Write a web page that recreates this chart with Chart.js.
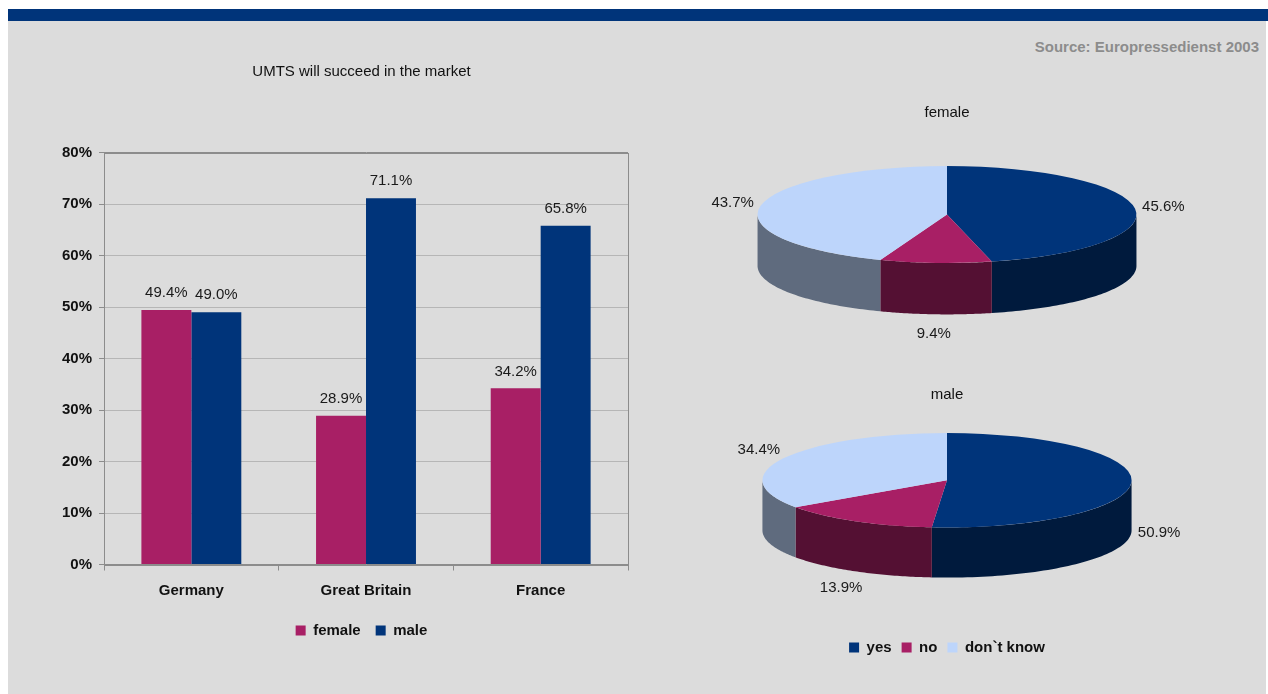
<!DOCTYPE html>
<html>
<head>
<meta charset="utf-8">
<title>UMTS will succeed in the market</title>
<script src="https://cdn.jsdelivr.net/npm/chart.js@4.4.0/dist/chart.umd.min.js"></script>
<style>
    body { margin: 0; background: #ffffff; font-family: "Liberation Sans", Arial, sans-serif; }
    #stripe { position: absolute; left: 8px; top: 9px; width: 1260px; height: 12px; background: #00347a; }
    #panel { position: absolute; left: 8px; top: 21px; width: 1258px; height: 673px; background: #dcdcdc; }
    #source { position: absolute; right: 9px; top: 38px; font-size: 15px; line-height: 17px; font-weight: bold; color: #8c8c8c; }
    canvas { position: absolute; }
    #barChart { left: 20px; top: 30px; }
    #femaleChart { left: 697px; top: 95px; }
    #maleChart { left: 697px; top: 377px; }
</style>
</head>
<body>
<div id="stripe"></div>
<div id="panel"></div>
<div id="source">Source: Europressedienst 2003</div>
<canvas id="barChart" width="682" height="640"></canvas>
<canvas id="femaleChart" width="500" height="248"></canvas>
<canvas id="maleChart" width="500" height="288"></canvas>

<script>
// values (percent)
const countries = ['Germany', 'Great Britain', 'France'];
const femaleYes = [49.4, 28.9, 34.2];
const maleYes = [49.0, 71.1, 65.8];

const answers = ['yes', 'no', 'don`t know'];
const femaleAnswers = [45.6, 9.4, 43.7];
const maleAnswers = [50.9, 13.9, 34.4];

const yTicks = [0, 10, 20, 30, 40, 50, 60, 70, 80];

const magenta = '#a81f65';
const navy = '#00347a';
const lightBlue = '#bdd5fb';

Chart.defaults.font.family = "'Liberation Sans', Arial, sans-serif";
Chart.defaults.font.size = 15;
Chart.defaults.color = '#111111';

const pct = v => v.toFixed(1) + '%';

// value labels above each bar
const barLabels = {
    id: 'barLabels',
    afterDatasetsDraw(chart) {
        const ctx = chart.ctx;
        ctx.save();
        ctx.font = "15px 'Liberation Sans', Arial, sans-serif";
        ctx.fillStyle = '#1a1a1a';
        ctx.textAlign = 'center';
        ctx.textBaseline = 'middle';
        chart.data.datasets.forEach((ds, i) => {
            chart.getDatasetMeta(i).data.forEach((bar, j) => {
                ctx.fillText(pct(ds.data[j]), bar.x, bar.y - 17);
            });
        });
        ctx.restore();
    }
};

// grey frame round the plot area
const plotFrame = {
    id: 'plotFrame',
    beforeDatasetsDraw(chart) {
        const a = chart.chartArea;
        const ctx = chart.ctx;
        ctx.save();
        ctx.strokeStyle = '#8c8c8c';
        ctx.lineWidth = 1;
        ctx.strokeRect(Math.round(a.left) + 0.5, Math.round(a.top) + 0.5, Math.round(a.right - a.left), Math.round(a.bottom - a.top));
        ctx.restore();
    }
};

const barctx = document.getElementById('barChart').getContext('2d');
const barChart = new Chart(barctx, {
    type: 'bar',
    data: {
        labels: countries,
        datasets: [{
            label: 'female',
            data: femaleYes,
            backgroundColor: magenta,
            borderWidth: 0
        }, {
            label: 'male',
            data: maleYes,
            backgroundColor: navy,
            borderWidth: 0
        }]
    },
    options: {
        responsive: false,
        animation: false,
        categoryPercentage: 0.572,
        barPercentage: 1,
        layout: {
            padding: { left: 35, right: 34, top: 0, bottom: 22 }
        },
        plugins: {
            title: {
                display: true,
                text: 'UMTS will succeed in the market',
                font: { size: 15, weight: 'normal' },
                color: '#111111',
                padding: { top: 33, bottom: 71.5 }
            },
            legend: {
                position: 'bottom',
                labels: {
                    boxWidth: 10,
                    boxHeight: 10,
                    padding: 15,
                    font: { size: 15, weight: 'bold' },
                    color: '#111111'
                }
            },
            tooltip: { enabled: false }
        },
        scales: {
            x: {
                grid: {
                    offset: true,
                    drawOnChartArea: false,
                    tickLength: 6,
                    tickColor: '#8c8c8c'
                },
                border: { color: '#8c8c8c' },
                ticks: {
                    padding: 11,
                    font: { size: 15, weight: 'bold' },
                    color: '#111111'
                },
                afterFit: scale => { scale.height = 43.5; }
            },
            y: {
                min: 0,
                max: 80,
                afterBuildTicks: scale => { scale.ticks = yTicks.map(v => ({ value: v })); },
                grid: {
                    color: c => c.tick && c.tick.value === 80 ? '#8c8c8c' : '#b6b6b6',
                    tickLength: 5,
                    tickColor: '#8c8c8c'
                },
                border: { color: '#8c8c8c' },
                ticks: {
                    padding: 7,
                    callback: v => v + '%',
                    font: { size: 15, weight: 'bold' },
                    color: '#111111'
                }
            },
            // empty axis on the right, only widens the space the title and legend centre on
            spacer: {
                type: 'linear',
                position: 'right',
                display: true,
                grid: { display: false },
                border: { display: false },
                ticks: { display: false },
                afterFit: scale => { scale.width = 40; }
            }
        }
    },
    plugins: [plotFrame, barLabels]
});

// --- 3D look for the pies: squashed top face, darker wall below, labels outside ---
function darker(hex, f) {
    const n = parseInt(hex.slice(1), 16);
    const r = Math.round(((n >> 16) & 255) * f);
    const g = Math.round(((n >> 8) & 255) * f);
    const b = Math.round((n & 255) * f);
    return 'rgb(' + r + ',' + g + ',' + b + ')';
}

function drawWall(ctx, cx, cy, rx, ry, depth, a1, a2, color) {
    // only the part facing the viewer (angles 0..PI) is visible
    [0, 2 * Math.PI].forEach(base => {
        const s = Math.max(a1, base);
        const e = Math.min(a2, base + Math.PI);
        if (e <= s) return;
        const n = 60;
        ctx.beginPath();
        for (let i = 0; i <= n; i++) {
            const t = s + (e - s) * i / n;
            const px = cx + rx * Math.cos(t);
            const py = cy + ry * Math.sin(t);
            if (i === 0) ctx.moveTo(px, py); else ctx.lineTo(px, py);
        }
        for (let i = n; i >= 0; i--) {
            const t = s + (e - s) * i / n;
            ctx.lineTo(cx + rx * Math.cos(t), cy + ry * Math.sin(t) + depth);
        }
        ctx.closePath();
        ctx.fillStyle = color;
        ctx.fill();
    });
}

const pie3d = {
    id: 'pie3d',
    beforeDatasetsDraw(chart, args, opts) {
        const ctx = chart.ctx;
        const arcs = chart.getDatasetMeta(0).data;
        const cx = arcs[0].x, cy = arcs[0].y, r = arcs[0].outerRadius;
        const rx = r / opts.tilt;
        const depth = r * opts.depth;
        const colors = chart.data.datasets[0].backgroundColor;
        arcs.forEach((arc, i) => {
            drawWall(ctx, cx, cy, rx, r, depth, arc.startAngle, arc.endAngle, darker(colors[i], 0.5));
        });
        ctx.save();
        ctx.translate(cx, cy);
        ctx.scale(1 / opts.tilt, 1);
        ctx.translate(-cx, -cy);
    },
    afterDatasetsDraw(chart, args, opts) {
        const ctx = chart.ctx;
        ctx.restore();
        const arcs = chart.getDatasetMeta(0).data;
        const values = chart.data.datasets[0].data;
        const cx = arcs[0].x, cy = arcs[0].y, r = arcs[0].outerRadius;
        const rx = r / opts.tilt;
        const depth = r * opts.depth;
        ctx.save();
        ctx.font = "15px 'Liberation Sans', Arial, sans-serif";
        ctx.fillStyle = '#1a1a1a';
        ctx.textAlign = 'center';
        ctx.textBaseline = 'middle';
        arcs.forEach((arc, i) => {
            const m = (arc.startAngle + arc.endAngle) / 2;
            const s = Math.sin(m);
            const x = cx + 1.15 * rx * Math.cos(m);
            const y = cy + 1.15 * r * s + (s > 0 ? depth : 0) + 12 * s;
            ctx.fillText(pct(values[i]), x, y);
        });
        ctx.restore();
    }
};

function pieOptions(title, titlePadding, layoutPadding, legend) {
    return {
        responsive: false,
        animation: false,
        layout: { padding: layoutPadding },
        plugins: {
            title: {
                display: true,
                text: title,
                font: { size: 15, weight: 'normal' },
                color: '#111111',
                padding: titlePadding
            },
            legend: legend,
            tooltip: { enabled: false },
            pie3d: { tilt: 0.256, depth: 1.06 }
        }
    };
}

const femalectx = document.getElementById('femaleChart').getContext('2d');
const femaleChart = new Chart(femalectx, {
    type: 'pie',
    data: {
        labels: answers,
        datasets: [{
            label: 'female',
            data: femaleAnswers,
            backgroundColor: [navy, magenta, lightBlue],
            borderWidth: 0,
            hoverOffset: 0
        }]
    },
    options: pieOptions('female', { top: 9, bottom: 44 }, { bottom: 80 }, { display: false }),
    plugins: [pie3d]
});

const malectx = document.getElementById('maleChart').getContext('2d');
const maleChart = new Chart(malectx, {
    type: 'pie',
    data: {
        labels: answers,
        datasets: [{
            label: 'male',
            data: maleAnswers,
            backgroundColor: [navy, magenta, lightBlue],
            borderWidth: 0,
            hoverOffset: 0
        }]
    },
    options: pieOptions('male', { top: 9, bottom: 29 }, { bottom: 0 }, {
        position: 'bottom',
        // empty title only keeps room for the pie wall and its labels
        title: { display: true, text: '', font: { size: 12 }, padding: { top: 88.1, bottom: 0 } },
        labels: {
            boxWidth: 10,
            boxHeight: 10,
            padding: 10,
            font: { size: 15, weight: 'bold' },
            color: '#111111'
        }
    }),
    plugins: [pie3d]
});
</script>
</body>
</html>
